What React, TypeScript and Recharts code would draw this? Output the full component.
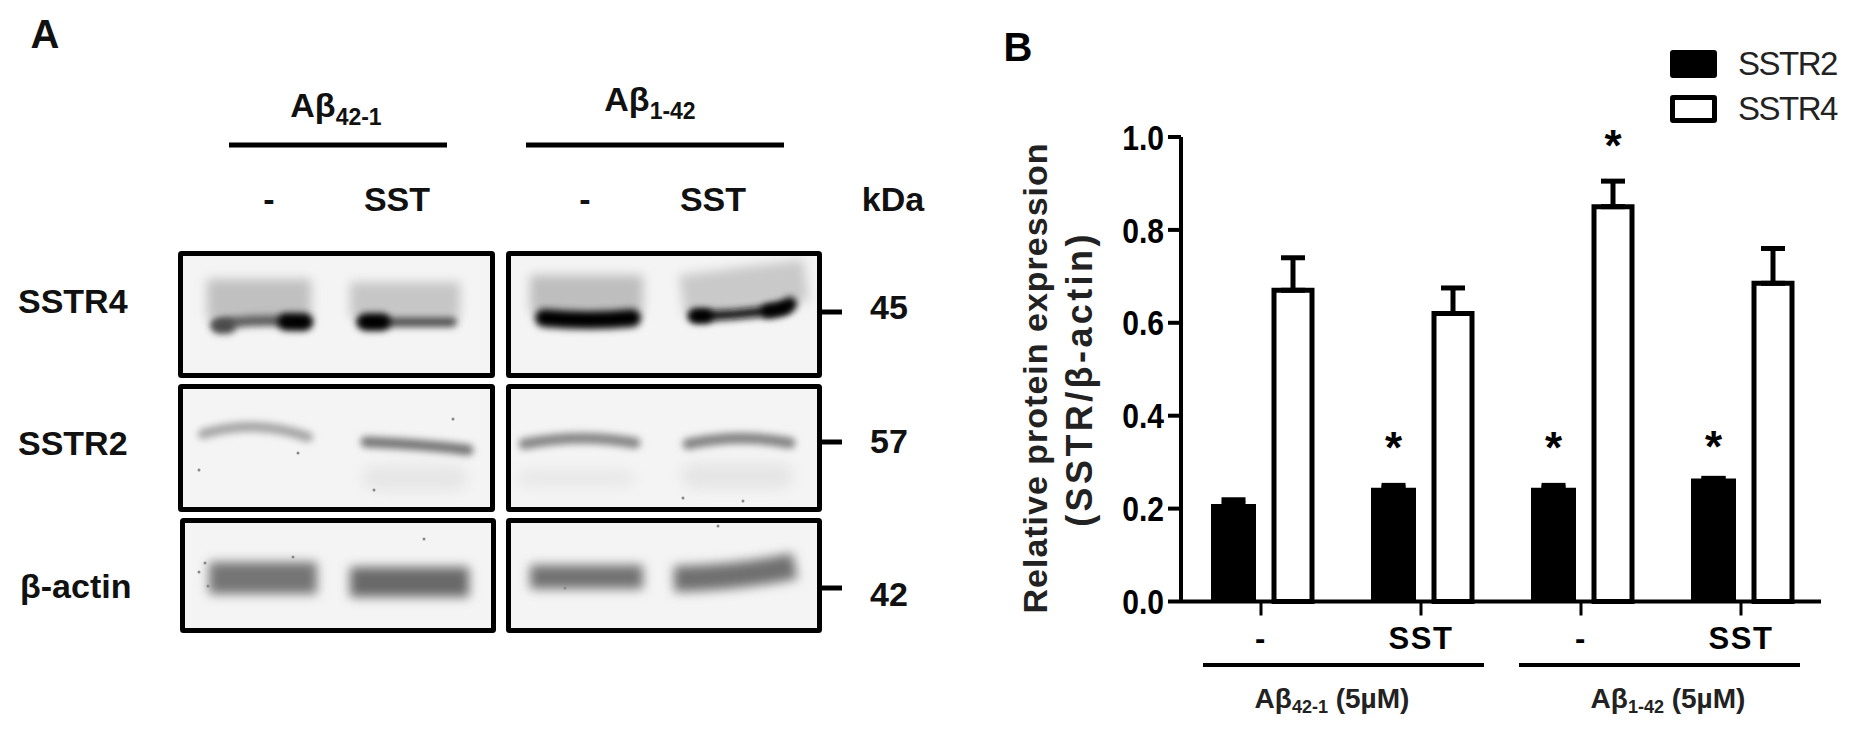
import React from 'react';
import { ComposedChart, Bar, XAxis, YAxis, ErrorBar, LabelList, Legend } from 'recharts';

const treatments = ['-', 'SST', '-', 'SST'];
const sstr2Values = [0.21, 0.245, 0.245, 0.265];
const sstr4Values = [0.67, 0.62, 0.85, 0.685];
const sstr2Errors = [0.009, 0.005, 0.005, 0];
const sstr4Errors = [0.07, 0.055, 0.055, 0.075];
const sstr2Stars = ['', '*', '*', '*'];
const sstr4Stars = ['', '', '*', ''];
const yTicks = [0, 0.2, 0.4, 0.6, 0.8, 1];
const legendNames = ['SSTR2', 'SSTR4'];

const chartData = treatments.map((treatment, i) => ({
    treatment,
    SSTR2: sstr2Values[i],
    SSTR4: sstr4Values[i],
    err2: [0, sstr2Errors[i]],
    err4: [0, sstr4Errors[i]],
    star2: sstr2Stars[i],
    star4: sstr4Stars[i],
}));

const FONT = '"Liberation Sans", Arial, sans-serif';

const LegendBox = () => (
    <div style={{ fontFamily: FONT, fontSize: 33, letterSpacing: -1.5, color: '#222' }}>
        {legendNames.map((name, i) => (
            <div key={name} style={{ display: 'flex', alignItems: 'center', height: 45 }}>
                <span
                    style={{
                        display: 'inline-block',
                        boxSizing: 'border-box',
                        width: 47,
                        height: 28,
                        marginRight: 21,
                        borderRadius: 3,
                        border: '5px solid #000',
                        background: i === 0 ? '#000' : '#fff',
                    }}
                />
                {name}
            </div>
        ))}
    </div>
);

// star sits higher on the shorter bars so all three line up
const starLift2 = [0, 49, 49, 40];

const Star = ({ viewBox, value, lift }: any) => {
    if (!value) return null;
    return (
        <text
            x={viewBox.x + viewBox.width / 2}
            y={viewBox.y - lift + 24}
            textAnchor="middle"
            fontFamily={FONT}
            fontSize={44}
            fontWeight="bold"
            fill="#000"
        >
            {value}
        </text>
    );
};

// tick labels in the reference are condensed, no narrow font here so squeeze it
const YTick = ({ x, y, payload }: any) => (
    <g transform={`translate(${x} ${y}) scale(0.86 1)`}>
        <text textAnchor="end" dy="0.36em" fontFamily={FONT} fontWeight="bold" fontSize={35} fill="#000">
            {payload.value.toFixed(1)}
        </text>
    </g>
);

// Western blot part (panel A), an illustration next to the chart
type Band = { d: string; w: number; c: string; blur?: string; cap?: 'butt' };

const blotBands: Band[] = [
    // SSTR4 row
    { d: 'M207 299 L311 299', w: 40, c: '#c0c0c0', blur: 'b5', cap: 'butt' },
    { d: 'M350 300 L460 300', w: 36, c: '#c6c6c6', blur: 'b5', cap: 'butt' },
    { d: 'M216 325 Q250 318 306 322', w: 11, c: '#5c5c5c' },
    { d: 'M220 326 L228 326', w: 15, c: '#4c4c4c' },
    { d: 'M286 322 L304 322', w: 17, c: '#000' },
    { d: 'M362 322 L452 322', w: 10, c: '#505050' },
    { d: 'M366 322 L382 322', w: 17, c: '#000' },
    { d: 'M530 294 L643 294', w: 38, c: '#bebebe', blur: 'b5', cap: 'butt' },
    { d: 'M682 296 L806 280', w: 42, c: '#c9c9c9', blur: 'b5', cap: 'butt' },
    { d: 'M544 318 Q590 322 632 318', w: 18, c: '#000' },
    { d: 'M694 316 Q740 316 786 308', w: 10, c: '#111' },
    { d: 'M696 316 L706 316', w: 14, c: '#000' },
    { d: 'M768 311 Q782 310 790 304', w: 14, c: '#000' },
    // SSTR2 row
    { d: 'M203 434 Q255 418 308 437', w: 10, c: '#a4a4a4' },
    { d: 'M366 442 Q420 444 468 450', w: 11, c: '#777' },
    { d: 'M524 444 Q580 433 635 443', w: 11, c: '#868686' },
    { d: 'M688 444 Q740 433 790 443', w: 11, c: '#838383' },
    { d: 'M375 478 L455 478', w: 26, c: '#e6e6e6', blur: 'b6' },
    { d: 'M526 478 L626 478', w: 18, c: '#e8e8e8', blur: 'b6' },
    { d: 'M694 476 L780 476', w: 26, c: '#e5e5e5', blur: 'b6' },
    // actin row
    { d: 'M209 578 L317 578', w: 32, c: '#757575', blur: 'b5', cap: 'butt' },
    { d: 'M350 582 L469 582', w: 30, c: '#696969', blur: 'b5', cap: 'butt' },
    { d: 'M530 577 L643 577', w: 24, c: '#727272', blur: 'b5', cap: 'butt' },
    { d: 'M674 579 Q735 578 795 566', w: 26, c: '#6f6f6f', blur: 'b5', cap: 'butt' },
];

const blotFrames = [
    [180.5, 253.5, 312, 122], [508.5, 253.5, 311, 122],
    [180.5, 386.5, 312, 123], [508.5, 386.5, 311, 123],
    [182.5, 520.5, 311, 110], [508.5, 520.5, 311, 110],
];

const blotSpecks = [
    [199, 470], [453, 419], [374, 490], [298, 453], [683, 498], [743, 501],
    [205, 563], [199, 572], [208, 586], [424, 539], [293, 557], [565, 588], [718, 526],
];
const blotTicks = [312, 442, 588];
const blotColumnX = [269, 397, 585, 713];

const BlotPanel = () => (
    <svg width={980} height={732} style={{ position: 'absolute', left: 0, top: 0 }} fontFamily={FONT} fontWeight="bold" fill="#111">
        <defs>
            {[['b3', 3.5], ['b5', 5.5], ['b6', 7]].map(([id, s]) => (
                <filter id={String(id)} key={String(id)} filterUnits="userSpaceOnUse" x={0} y={0} width={980} height={732}>
                    <feGaussianBlur stdDeviation={s} />
                </filter>
            ))}
            <clipPath id="allFrames">
                {blotFrames.map(([x, y, w, h], i) => <rect key={i} x={x} y={y} width={w} height={h} />)}
            </clipPath>
        </defs>
        {blotFrames.map(([x, y, w, h], i) => (
            <rect key={i} x={x} y={y} width={w} height={h} fill="#f4f4f4" />
        ))}
        <g clipPath="url(#allFrames)">
            {blotBands.map((b, i) => (
                <path key={i} d={b.d} fill="none" stroke={b.c} strokeWidth={b.w} strokeLinecap={b.cap || 'round'} filter={`url(#${b.blur || 'b3'})`} />
            ))}
            {blotSpecks.map(([x, y], i) => <circle key={i} cx={x} cy={y} r={1.5} fill="#888" />)}
        </g>
        {blotFrames.map(([x, y, w, h], i) => (
            <rect key={i} x={x} y={y} width={w} height={h} rx={1} fill="none" stroke="#000" strokeWidth={5} />
        ))}

        <text x={45} y={48} fontSize={40} textAnchor="middle">A</text>
        <text x={336} y={117} fontSize={34} textAnchor="middle">
            Aβ<tspan fontSize={23} dy={8}>42-1</tspan>
        </text>
        <text x={650} y={111} fontSize={34} textAnchor="middle">
            Aβ<tspan fontSize={23} dy={8}>1-42</tspan>
        </text>
        <line x1={229} x2={447} y1={145} y2={145} stroke="#000" strokeWidth={5} />
        <line x1={526} x2={784} y1={145} y2={145} stroke="#000" strokeWidth={5} />
        {treatments.map((t, i) => (
            <text key={i} x={blotColumnX[i]} y={211} fontSize={34} textAnchor="middle">{t}</text>
        ))}
        <text x={893} y={211} fontSize={34} textAnchor="middle">kDa</text>
        <text x={18} y={313} fontSize={34}>SSTR4</text>
        <text x={18} y={455} fontSize={34}>SSTR2</text>
        <text x={20} y={598} fontSize={34}>β-actin</text>
        <text x={889} y={319} fontSize={34} textAnchor="middle">45</text>
        <text x={889} y={453} fontSize={34} textAnchor="middle">57</text>
        <text x={889} y={606} fontSize={34} textAnchor="middle">42</text>
        {blotTicks.map((y) => <line key={y} x1={822} x2={842} y1={y} y2={y} stroke="#000" strokeWidth={5} />)}
    </svg>
);

const App: React.FC = () => (
    <div style={{ position: 'absolute', left: 0, top: 0, width: 1851, height: 732, background: '#fff', overflow: 'hidden' }}>
        <BlotPanel />
        <ComposedChart
            width={1851}
            height={732}
            data={chartData}
            margin={{ top: 137, right: 30, bottom: 70.5, left: 1101 }}
            barGap={18}
            style={{ position: 'absolute', left: 0, top: 0 }}
        >
            <XAxis
                dataKey="treatment"
                axisLine={{ stroke: '#000', strokeWidth: 4 }}
                tickLine={{ stroke: '#000', strokeWidth: 3 }}
                tickSize={14}
                tickMargin={11}
                height={60}
                interval={0}
                tick={{ fill: '#000', fontSize: 31, fontWeight: 'bold', fontFamily: FONT, letterSpacing: 1.5 }}
            />
            <YAxis
                domain={[0, 1]}
                ticks={yTicks}
                width={80}
                axisLine={{ stroke: '#000', strokeWidth: 4 }}
                tickLine={{ stroke: '#000', strokeWidth: 4 }}
                tickSize={13}
                tickMargin={4}
                tick={<YTick />}
            />
            <Bar dataKey="SSTR2" fill="#000" strokeWidth={0} barSize={45} isAnimationActive={false}>
                <ErrorBar dataKey="err2" direction="y" width={12} stroke="#000" strokeWidth={5} isAnimationActive={false} />
                <LabelList
                    dataKey="star2"
                    content={(p: any) => <Star {...p} lift={starLift2[p.index]} />}
                />
            </Bar>
            <Bar dataKey="SSTR4" fill="#fff" stroke="#000" strokeWidth={5} barSize={38} isAnimationActive={false}>
                <ErrorBar dataKey="err4" direction="y" width={12} stroke="#000" strokeWidth={5} isAnimationActive={false} />
                <LabelList dataKey="star4" content={(p: any) => <Star {...p} lift={70} />} />
            </Bar>
            <Legend
                content={<LegendBox />}
                layout="vertical"
                align="center"
                verticalAlign="middle"
                wrapperStyle={{ position: 'absolute', left: 1670, top: 41, width: 181, height: 90 }}
            />

            <text transform="translate(1047 378) rotate(-90)" textAnchor="middle" fontFamily={FONT} fontWeight="bold" fontSize={34} letterSpacing={1} fill="#222">
                Relative protein expression
            </text>
            <text transform="translate(1092 379) rotate(-90)" textAnchor="middle" fontFamily={FONT} fontWeight="bold" fontSize={36} letterSpacing={3.4} fill="#222">
                (SSTR/β-actin)
            </text>
            <text x={1018} y={61} textAnchor="middle" fontFamily={FONT} fontWeight="bold" fontSize={40}>B</text>
            <line x1={1203} x2={1484} y1={665} y2={665} stroke="#000" strokeWidth={4} />
            <line x1={1519} x2={1800} y1={665} y2={665} stroke="#000" strokeWidth={4} />
            <text x={1332} y={708} textAnchor="middle" fontFamily={FONT} fontWeight="bold" fontSize={28} fill="#222">
                Aβ<tspan fontSize={18} dy={5}>42-1</tspan><tspan dy={-5}> (5µM)</tspan>
            </text>
            <text x={1668} y={708} textAnchor="middle" fontFamily={FONT} fontWeight="bold" fontSize={28} fill="#222">
                Aβ<tspan fontSize={18} dy={5}>1-42</tspan><tspan dy={-5}> (5µM)</tspan>
            </text>
        </ComposedChart>
    </div>
);

export default App;
